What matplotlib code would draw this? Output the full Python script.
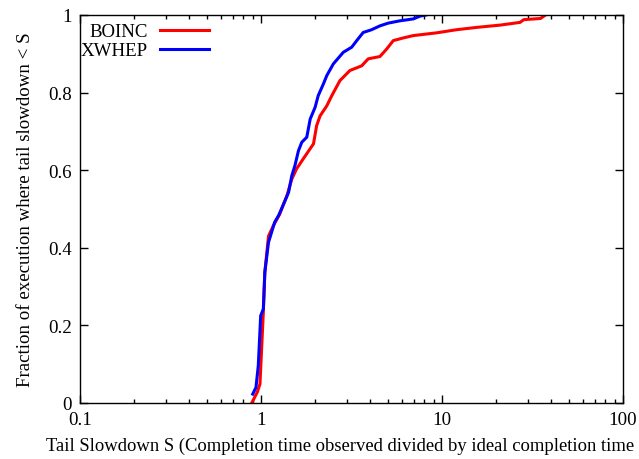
import matplotlib
matplotlib.use("Agg")
import matplotlib.pyplot as plt
from matplotlib.ticker import LogLocator, FixedLocator, NullFormatter

# CDF of tail slowdown
boinc_s = [0.889, 0.954, 0.987, 1.03, 1.05, 1.10, 1.17, 1.27, 1.32, 1.39, 1.48,
           1.57, 1.71, 1.95, 2.03, 2.12, 2.31, 2.46, 2.73, 3.10, 3.60, 3.91,
           4.54, 4.94, 5.38, 6.12, 6.95, 9.33, 12.0, 15.5, 21.0, 27.0, 28.3,
           35.0, 37.3]
boinc_f = [0.0, 0.028, 0.049, 0.234, 0.337, 0.43, 0.457, 0.487, 0.508, 0.534,
           0.577, 0.603, 0.629, 0.668, 0.715, 0.74, 0.766, 0.792, 0.831, 0.857,
           0.869, 0.887, 0.893, 0.912, 0.934, 0.941, 0.947, 0.954, 0.962,
           0.968, 0.974, 0.981, 0.988, 0.991, 1.0]

xwhep_s = [0.90, 0.938, 0.966, 0.996, 1.03, 1.05, 1.10, 1.19, 1.25, 1.32, 1.42,
           1.48, 1.54, 1.61, 1.68, 1.79, 1.87, 1.99, 2.07, 2.21, 2.31, 2.51,
           2.85, 3.17, 3.38, 3.67, 4.08, 4.54, 5.04, 5.85, 6.95, 7.55, 8.15]
xwhep_f = [0.023, 0.04, 0.096, 0.225, 0.242, 0.337, 0.414, 0.466, 0.483, 0.508,
           0.543, 0.586, 0.612, 0.65, 0.672, 0.685, 0.732, 0.762, 0.792, 0.822,
           0.844, 0.874, 0.904, 0.917, 0.934, 0.955, 0.962, 0.972, 0.979,
           0.985, 0.990, 0.997, 1.0]

x_ticks = [0.1, 1, 10, 100]
x_labels = ["0.1", "1", "10", "100"]
y_ticks = [0, 0.2, 0.4, 0.6, 0.8, 1]
y_labels = ["0", "0.2", "0.4", "0.6", "0.8", "1"]

plt.rcParams['font.family'] = ['Liberation Serif', 'DejaVu Serif']
plt.rcParams['font.size'] = 13.6

fig = plt.figure(figsize=(6.39, 4.60), dpi=100)
ax = fig.add_axes([80/639, 1 - 404/460, 543/639, 388/460])

ax.plot(boinc_s, boinc_f, color='#ff0000', lw=2.2, label='BOINC')
ax.plot(xwhep_s, xwhep_f, color='#0000ff', lw=2.2, label='XWHEP')

ax.set_xscale('log')
ax.set_xlim(0.1, 100)
ax.set_ylim(0, 1)
ax.xaxis.set_major_locator(FixedLocator(x_ticks))
ax.set_xticklabels(x_labels)
ax.xaxis.set_minor_locator(LogLocator(base=10, subs=range(2, 10)))
ax.xaxis.set_minor_formatter(NullFormatter())
ax.set_yticks(y_ticks)
ax.set_yticklabels(y_labels)

ax.tick_params(which='both', direction='in', top=True, right=True, width=1)
ax.tick_params(which='major', length=5.5, pad=6)
ax.tick_params(which='minor', length=3)
for sp in ax.spines.values():
    sp.set_linewidth(1)

ax.set_ylabel('Fraction of execution where tail slowdown < S', labelpad=10)
# the reference shows the label cut at the right edge, without the closing bracket
fig.text(46/639, 1 - 446/460,
         'Tail Slowdown S (Completion time observed divided by ideal completion time',
         ha='left', va='center', fontsize=13.4)

# gnuplot-like key: labels right-aligned, line sample after the label
ax.legend(loc='upper left', bbox_to_anchor=(-0.018, 1.006), markerfirst=False,
          frameon=False, handlelength=2.6, handletextpad=0.65, labelspacing=0.1,
          borderaxespad=0.0, borderpad=0.55)

fig.savefig('out.png', dpi=100)
